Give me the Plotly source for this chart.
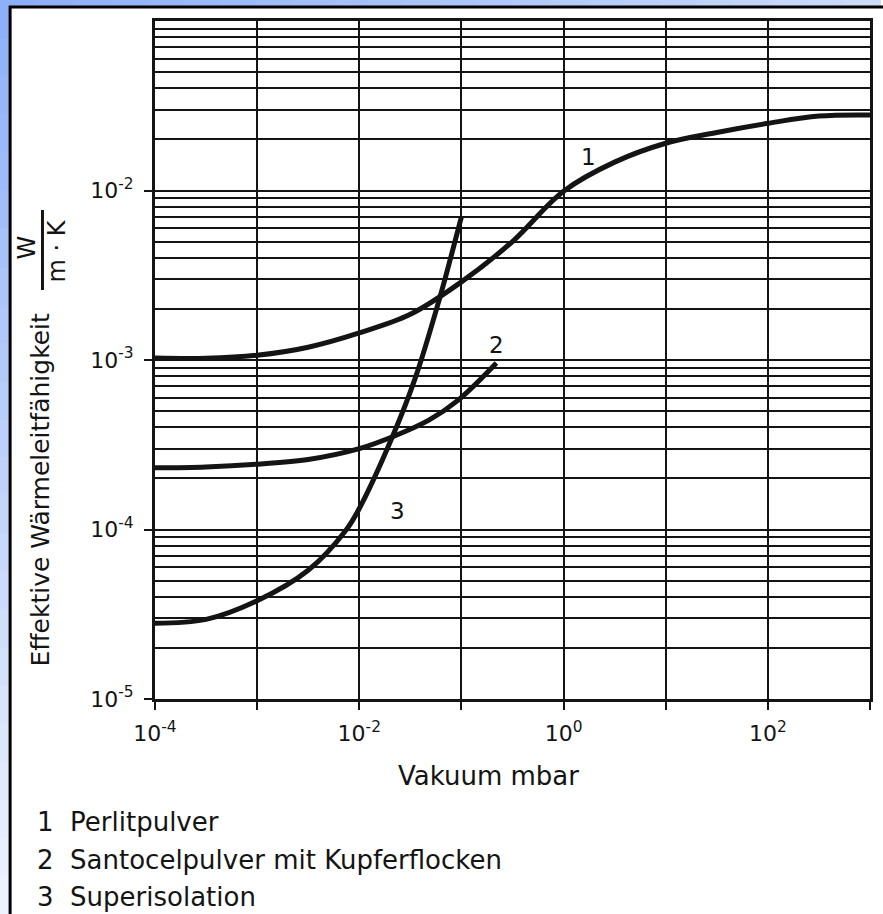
import numpy as np
import plotly.graph_objects as go

# ---------------- data ----------------
series_names = ["Perlitpulver", "Santocelpulver mit Kupferflocken", "Superisolation"]
series_labels = ["1", "2", "3"]

perlit_x = [1e-4, 3.16e-4, 1e-3, 3.16e-3, 1e-2, 3.16e-2, 1e-1, 3.16e-1, 1.0, 3.16, 10.0, 31.6, 100.0, 316.0, 1000.0]
perlit_y = [1.026e-3, 1.023e-3, 1.067e-3, 1.19e-3, 1.445e-3, 1.86e-3, 2.89e-3, 5.0e-3, 9.9e-3, 1.47e-2, 1.90e-2, 2.2e-2, 2.49e-2, 2.75e-2, 2.79e-2]

santo_x = [1e-4, 3.16e-4, 1e-3, 3.16e-3, 1e-2, 2.3e-2, 4.8e-2, 9.3e-2, 2.2e-1]
santo_y = [2.31e-4, 2.34e-4, 2.43e-4, 2.59e-4, 3.0e-4, 3.6e-4, 4.42e-4, 5.8e-4, 9.6e-4]

super_x = [1e-4, 3.16e-4, 1e-3, 3.16e-3, 7.4e-3, 1e-2, 2.1e-2, 3.55e-2, 6.1e-2, 7.9e-2, 1.0e-1]
super_y = [2.8e-5, 2.95e-5, 3.8e-5, 5.75e-5, 9.9e-5, 1.33e-4, 3.5e-4, 7.9e-4, 2.3e-3, 4.07e-3, 7.0e-3]

# curve number labels (data coordinates)
label_x = [1.74, 0.22, 0.0236]
label_y = [1.57e-2, 1.22e-3, 1.28e-4]

x_tickvals = [1e-4, 1e-3, 1e-2, 1e-1, 1e0, 1e1, 1e2, 1e3]
x_ticktext = ["10<sup>-4</sup>", "", "10<sup>-2</sup>", "", "10<sup>0</sup>", "", "10<sup>2</sup>", ""]
y_tickvals = [1e-5, 1e-4, 1e-3, 1e-2]
y_ticktext = ["10<sup>-5</sup>", "10<sup>-4</sup>", "10<sup>-3</sup>", "10<sup>-2</sup>"]
y_minor = [m * 10.0 ** e for e in range(-5, -1) for m in range(2, 10)]

x_title = "Vakuum mbar"
y_title = "Effektive Wärmeleitfähigkeit"
unit_num = "W"
unit_den = "m\u00a0·\u00a0K"

# ---------------- layout helpers ----------------
W, H = 883, 914
L, R, T, B = 155, 10, 21, 215
PW, PH = W - L - R, H - T - B


def px(x):
    return (x - L) / PW


def py(y):
    return (H - B - y) / PH


FONT = "DejaVu Sans"
INK = "#141414"

fig = go.Figure()
for xs, ys, name in [(perlit_x, perlit_y, series_names[0]),
                     (santo_x, santo_y, series_names[1]),
                     (super_x, super_y, series_names[2])]:
    fig.add_trace(go.Scatter(x=xs, y=ys, mode="lines", name=name,
                             line=dict(color=INK, width=5, shape="spline", smoothing=1.0),
                             showlegend=False, hoverinfo="skip"))

shapes = []
# gradient border (blue, fading)
c0 = np.array([140, 175, 248])
c_right = np.array([205, 220, 250])
c_bottom = np.array([240, 244, 253])
n = 24
for i in range(n):
    t = (i + 0.5) / n
    c = (c0 * (1 - t) + c_right * t).astype(int)
    shapes.append(dict(type="rect", xref="paper", yref="paper", layer="below",
                       x0=px(W * i / n), x1=px(W * (i + 1) / n + 1), y0=py(8), y1=py(-2),
                       fillcolor=f"rgb({c[0]},{c[1]},{c[2]})", line=dict(width=0)))
for i in range(n):
    t = (i + 0.5) / n
    c = (c0 * (1 - t) + c_bottom * t).astype(int)
    shapes.append(dict(type="rect", xref="paper", yref="paper", layer="below",
                       x0=px(-2), x1=px(10), y0=py(H * (i + 1) / n + 1), y1=py(H * i / n),
                       fillcolor=f"rgb({c[0]},{c[1]},{c[2]})", line=dict(width=0)))
# white page with black frame
shapes.append(dict(type="rect", xref="paper", yref="paper", layer="below",
                   x0=px(9.5), x1=px(W + 20), y0=py(H + 20), y1=py(7),
                   fillcolor="white", line=dict(color="black", width=3)))
# fraction bar of the unit
shapes.append(dict(type="line", xref="paper", yref="paper",
                   x0=px(42), x1=px(42), y0=py(290), y1=py(210),
                   line=dict(color=INK, width=3)))

annotations = []


def ann(x, y, text, size, angle=0, xanchor="center", xref="paper", yref="paper"):
    annotations.append(dict(x=x, y=y, xref=xref, yref=yref, text=text, textangle=angle,
                            xanchor=xanchor, yanchor="middle", showarrow=False,
                            font=dict(family=FONT, size=size, color=INK)))


for lx, ly, lab in zip(label_x, label_y, series_labels):
    ann(np.log10(lx), np.log10(ly), lab, 23, xref="x", yref="y")
ann(px(40), py(489), y_title, 25, angle=-90)
ann(px(26), py(248), unit_num, 24, angle=-90)
ann(px(57), py(251), unit_den, 24, angle=-90)
ann(px(490), py(776), x_title, 26)
for i, (lab, name) in enumerate(zip(series_labels, series_names)):
    ann(px(34), py(822 + 37.5 * i), lab + "\u00a0\u00a0" + name, 26, xanchor="left")

grid = dict(showgrid=True, gridcolor=INK, gridwidth=2)
fig.update_layout(
    width=W, height=H,
    margin=dict(l=L, r=R, t=T, b=B),
    paper_bgcolor="white", plot_bgcolor="white",
    font=dict(family=FONT, color=INK),
    shapes=shapes, annotations=annotations,
    xaxis=dict(type="log", range=[-4, 3], tickmode="array", tickvals=x_tickvals, ticktext=x_ticktext,
               ticks="outside", ticklen=8, tickwidth=2, tickcolor=INK,
               showline=True, linecolor=INK, linewidth=3, mirror=True, zeroline=False,
               tickfont=dict(family=FONT, size=22, color=INK), ticklabelstandoff=5, **grid),
    yaxis=dict(type="log", range=[-5, -1], tickmode="array", tickvals=y_tickvals, ticktext=y_ticktext,
               ticks="outside", ticklen=8, tickwidth=2, tickcolor=INK,
               showline=True, linecolor=INK, linewidth=3, mirror=True, zeroline=False,
               tickfont=dict(family=FONT, size=22, color=INK), ticklabelstandoff=6,
               minor=dict(tickmode="array", tickvals=y_minor, showgrid=True, gridcolor=INK,
                          gridwidth=2, ticks=""),
               **grid),
)

fig.write_html("out.html", config={"displayModeBar": False})
